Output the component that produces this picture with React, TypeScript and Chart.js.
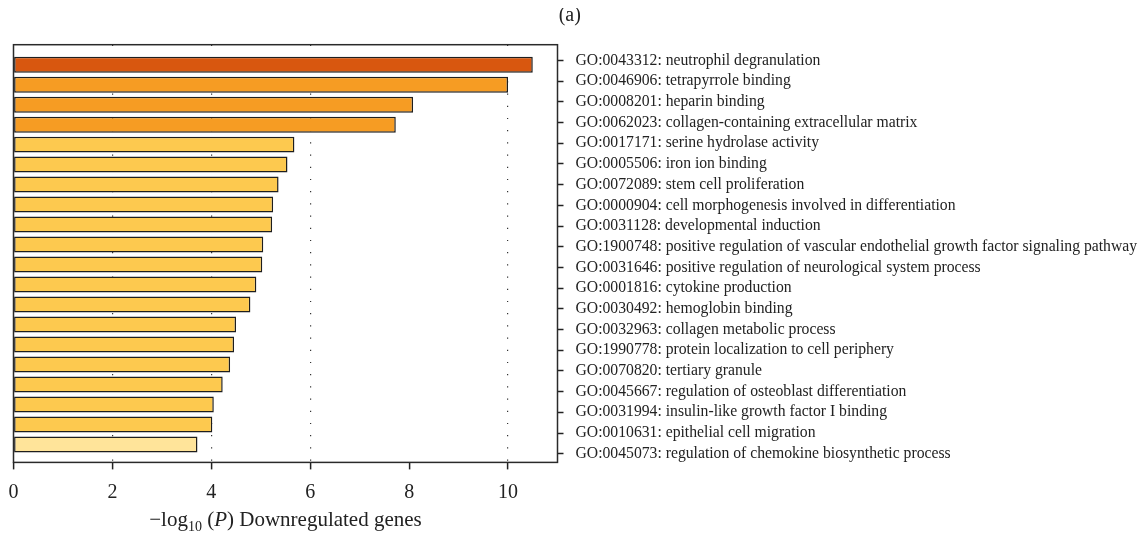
import { useEffect, useRef } from 'react';
import { Chart, registerables } from 'chart.js';

Chart.register(...registerables);

// GO terms enriched among downregulated genes, top to bottom
const goTerms = [
  'GO:0043312: neutrophil degranulation',
  'GO:0046906: tetrapyrrole binding',
  'GO:0008201: heparin binding',
  'GO:0062023: collagen-containing extracellular matrix',
  'GO:0017171: serine hydrolase activity',
  'GO:0005506: iron ion binding',
  'GO:0072089: stem cell proliferation',
  'GO:0000904: cell morphogenesis involved in differentiation',
  'GO:0031128: developmental induction',
  'GO:1900748: positive regulation of vascular endothelial growth factor signaling pathway',
  'GO:0031646: positive regulation of neurological system process',
  'GO:0001816: cytokine production',
  'GO:0030492: hemoglobin binding',
  'GO:0032963: collagen metabolic process',
  'GO:1990778: protein localization to cell periphery',
  'GO:0070820: tertiary granule',
  'GO:0045667: regulation of osteoblast differentiation',
  'GO:0031994: insulin-like growth factor I binding',
  'GO:0010631: epithelial cell migration',
  'GO:0045073: regulation of chemokine biosynthetic process',
];

// -log10(P) for each term
const logP = [
  10.5, 10.0, 8.08, 7.73, 5.68, 5.54, 5.36, 5.25, 5.23, 5.05,
  5.03, 4.91, 4.79, 4.5, 4.46, 4.38, 4.23, 4.05, 4.02, 3.72,
];

const xTicks = [0, 2, 4, 6, 8, 10];
const dottedGridAt = [2, 4, 6, 10];

// fill per bar (significance tiers)
const barColors = [
  '#D8570F',
  '#F69C23', '#F69C23', '#F69C23',
  '#FDC94F', '#FDC94F', '#FDC94F', '#FDC94F', '#FDC94F', '#FDC94F',
  '#FDC94F', '#FDC94F', '#FDC94F', '#FDC94F', '#FDC94F', '#FDC94F',
  '#FDC94F', '#FDC94F', '#FDC94F',
  '#FFE49A',
];

const SERIF = '"Liberation Serif", "Times New Roman", serif';
const INK = '#222222';

const framePlugin = {
  id: 'frame',
  afterDatasetsDraw(chart: any) {
    const { ctx, chartArea: a } = chart;
    ctx.save();
    ctx.strokeStyle = '#2a2a2a';
    ctx.lineWidth = 1.5;
    ctx.strokeRect(a.left, a.top, a.right - a.left, a.bottom - a.top);
    ctx.restore();
  },
};

// let the long term labels run to the canvas edge instead of being clipped
const labelRoomPlugin = {
  id: 'labelRoom',
  afterLayout(chart: any) {
    const s = chart.scales.y2;
    if (s) s.right = chart.width;
  },
};

// x-axis title with subscript and italic parts
const axisTitlePlugin = {
  id: 'axisTitle',
  afterDraw(chart: any) {
    const { ctx, chartArea } = chart;
    const xs = chart.scales.x;
    const baseline = xs.bottom + 11;
    const parts = [
      { text: '\u2212log', font: `21px ${SERIF}`, dy: 0 },
      { text: '10', font: `14px ${SERIF}`, dy: 5 },
      { text: ' (', font: `21px ${SERIF}`, dy: 0 },
      { text: 'P', font: `italic 21px ${SERIF}`, dy: 0 },
      { text: ') Downregulated genes', font: `21px ${SERIF}`, dy: 0 },
    ];
    ctx.save();
    ctx.fillStyle = INK;
    ctx.textBaseline = 'alphabetic';
    ctx.textAlign = 'left';
    let total = 0;
    const widths = parts.map((p) => {
      ctx.font = p.font;
      const w = ctx.measureText(p.text).width;
      total += w;
      return w;
    });
    let x = (chartArea.left + chartArea.right) / 2 - total / 2;
    parts.forEach((p, i) => {
      ctx.font = p.font;
      ctx.fillText(p.text, x, baseline + p.dy);
      x += widths[i];
    });
    ctx.restore();
  },
};

export default function App() {
  const canvasRef = useRef<HTMLCanvasElement | null>(null);

  useEffect(() => {
    const canvas = canvasRef.current;
    if (!canvas) return;
    const chart = new Chart(canvas, {
      type: 'bar',
      data: {
        datasets: [
          {
            data: logP.map((v, i) => ({ x: v, y: i })),
            backgroundColor: barColors,
            borderColor: '#1e1e1e',
            borderWidth: 1.5,
            borderSkipped: false,
            categoryPercentage: 1,
            barPercentage: 0.8,
          } as any,
        ],
      },
      options: {
        indexAxis: 'y',
        animation: false,
        responsive: true,
        maintainAspectRatio: false,
        layout: { padding: { left: 5.5, right: 21, top: 0, bottom: 23.6 } },
        plugins: {
          legend: { display: false },
          tooltip: { enabled: false },
          title: {
            display: true,
            text: '(a)',
            color: INK,
            font: { family: SERIF, size: 20, weight: 'normal', lineHeight: 0.8 },
            padding: { top: 0, bottom: 20.7 },
          },
        },
        scales: {
          x: {
            type: 'linear',
            position: 'bottom',
            min: 0,
            max: 11,
            afterBuildTicks: (s: any) => {
              s.ticks = xTicks.map((v) => ({ value: v }));
            },
            afterFit: (s: any) => {
              s.paddingLeft = 0;
              s.paddingRight = 0;
            },
            grid: {
              color: (c: any) =>
                dottedGridAt.includes(c.tick?.value) ? '#333333' : 'rgba(0,0,0,0)',
              lineWidth: 1.2,
              tickLength: 7,
              tickColor: INK,
              tickWidth: 1.5,
              tickBorderDash: [],
            },
            border: { display: false, dash: [1.2, 11] },
            ticks: {
              color: INK,
              font: { family: SERIF, size: 20 },
              padding: 11,
              autoSkip: false,
            },
          },
          y: {
            type: 'linear',
            display: false,
            reverse: true,
            offset: false,
            grid: { offset: false },
            min: -1,
            max: 19.9,
          },
          y2: {
            type: 'linear',
            position: 'right',
            reverse: true,
            offset: false,
            min: -0.765,
            max: 19.42,
            afterBuildTicks: (s: any) => {
              s.ticks = goTerms.map((_, i) => ({ value: i }));
            },
            afterFit: (s: any) => {
              s.width = 568.5;
            },
            grid: {
              offset: false,
              drawOnChartArea: false,
              tickLength: 6,
              tickColor: INK,
              tickWidth: 1.5,
            },
            border: { display: false },
            ticks: {
              color: INK,
              font: { family: SERIF, size: 15.7 },
              padding: 12,
              autoSkip: false,
              callback: (v: any) => goTerms[v] ?? '',
            },
          },
        },
      } as any,
      plugins: [framePlugin, labelRoomPlugin, axisTitlePlugin],
    });
    return () => chart.destroy();
  }, []);

  return (
    <div style={{ width: 1139, height: 531, marginBottom: -8, position: 'relative' }}>
      <canvas ref={canvasRef} />
    </div>
  );
}
